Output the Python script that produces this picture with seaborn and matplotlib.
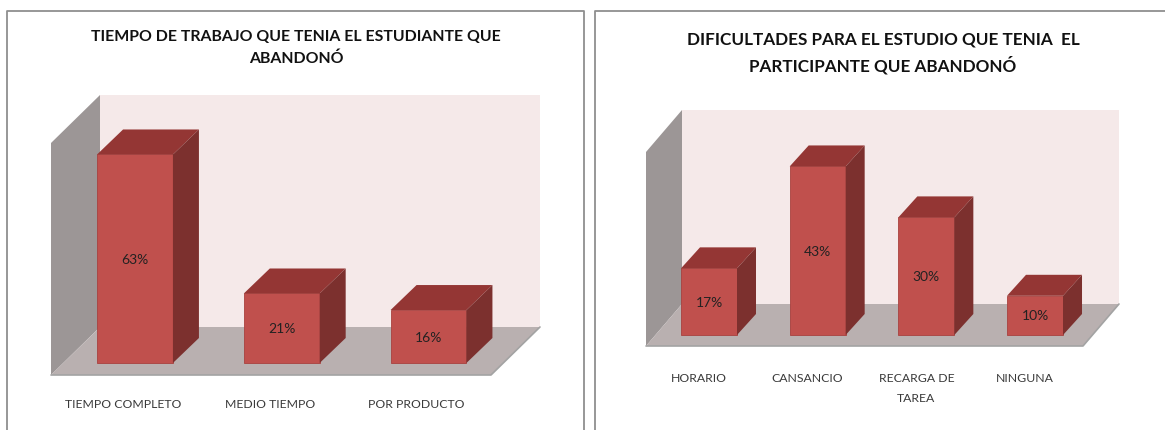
import pandas as pd
import matplotlib
matplotlib.use('Agg')
import matplotlib.pyplot as plt
from matplotlib.lines import Line2D
from matplotlib.patches import Polygon
from matplotlib.transforms import ScaledTranslation
import seaborn as sns

# datos del grafico izquierdo
trabajo_cat = ['TIEMPO COMPLETO', 'MEDIO TIEMPO', 'POR PRODUCTO']
trabajo_val = [63, 21, 16]
trabajo_titulo = 'TIEMPO DE TRABAJO QUE TENIA EL ESTUDIANTE QUE\nABANDONÓ'

# datos del grafico derecho
dificultad_cat = ['HORARIO', 'CANSANCIO', 'RECARGA DE\nTAREA', 'NINGUNA']
dificultad_val = [17, 43, 30, 10]
dificultad_titulo = 'DIFICULTADES PARA EL ESTUDIO QUE TENIA  EL\nPARTICIPANTE QUE ABANDONÓ'

ANCHO, ALTO = 1165, 431

sns.set_theme(style='white')
plt.rcParams['font.family'] = ['Lato', 'DejaVu Sans']

ROJO = '#c0504d'
TECHO = '#943634'
LADO = '#7c302e'
PARED = '#9c9696'
FONDO = '#f5e9e9'
PISO = '#b9b0b0'


def panel(fig, cat, val, titulo, x0, x1, y_piso, y_arriba, prof, centro0, paso, base, escala,
          prof_barra, corrido, pad, y_titulo, x_titulo, t_size, t_esp):
    # los ejes cubren el plano frontal de la caja, en pixeles de la imagen
    ax = fig.add_axes([x0 / ANCHO, 1 - y_piso / ALTO, (x1 - x0) / ANCHO, (y_piso - y_arriba) / ALTO])
    df = pd.DataFrame({'cat': cat, 'val': val})
    sns.barplot(data=df, x='cat', y='val', color=ROJO, saturation=1, width=56 / 108.67 if len(cat) == 4 else 76 / 147,
                edgecolor='#a8423f', linewidth=0.6, zorder=3, ax=ax)
    ax.set_xlim((x0 - centro0) / paso, (x1 - centro0) / paso)
    ax.set_ylim((base - y_piso) / escala, (base - y_arriba) / escala)
    ax.patch.set_visible(False)
    ax.set_xlabel('')
    ax.set_ylabel('')
    ax.set_yticks([])
    sns.despine(ax=ax, left=True, bottom=True)

    # paredes y piso en fraccion de los ejes
    dx, dy = prof[0] / (x1 - x0), prof[1] / (y_piso - y_arriba)
    caras = [
        ([(dx, dy), (1 + dx, dy), (1 + dx, 1 + dy), (dx, 1 + dy)], FONDO),
        ([(0, 0), (dx, dy), (dx, 1 + dy), (0, 1)], PARED),
        ([(0, 0), (1, 0), (1 + dx, dy), (dx, dy)], PISO),
    ]
    for pts, color in caras:
        ax.add_patch(Polygon(pts, closed=True, transform=ax.transAxes, facecolor=color,
                             edgecolor='none', clip_on=False, zorder=1))
    ax.plot([0, 1, 1 + dx], [0, 0, dy], transform=ax.transAxes, color='#a3a3a3', lw=1.2,
            clip_on=False, zorder=1.5)

    # caras de arriba y del costado de cada barra
    px = prof_barra[0] / paso
    py = prof_barra[1] / escala
    for b in ax.containers[0]:
        xa, xb, h = b.get_x(), b.get_x() + b.get_width(), b.get_height()
        ax.add_patch(Polygon([(xa, h), (xb, h), (xb + px, h + py), (xa + px, h + py)], closed=True,
                             facecolor=TECHO, edgecolor='none', clip_on=False, zorder=3))
        ax.add_patch(Polygon([(xb, 0), (xb + px, py), (xb + px, h + py), (xb, h)], closed=True,
                             facecolor=LADO, edgecolor='none', clip_on=False, zorder=3))
    ax.bar_label(ax.containers[0], labels=[str(v) + '%' for v in val], label_type='center',
                 fontsize=10, color='#222222')

    # etiquetas corridas a la izquierda de la barra
    ax.tick_params(axis='x', length=0, pad=pad, labelsize=8.8, labelcolor='#3a3a3a')
    corr = ScaledTranslation(-corrido / 100, 0, fig.dpi_scale_trans)
    for t in ax.get_xticklabels():
        t.set_transform(t.get_transform() + corr)
        t.set_linespacing(2.05)

    fig.text(x_titulo / ANCHO, 1 - y_titulo / ALTO, titulo, ha='center', va='center', fontsize=t_size,
             fontweight='bold', color='#111111', linespacing=t_esp)


fig = plt.figure(figsize=(ANCHO / 100, ALTO / 100), dpi=100, facecolor='white')

panel(fig, trabajo_cat, trabajo_val, trabajo_titulo, 51, 491, 376, 144, (49, 48), 135, 146.75, 364, 3.31,
      (26, 25), 12, 16.5, 48, 296, 11.4, 1.7)
panel(fig, dificultad_cat, dificultad_val, dificultad_titulo, 646, 1083, 347, 153, (36, 42), 709, 108.67, 336, 3.92,
      (19, 21), 10, 18.5, 53, 883, 12.3, 1.58)

# marcos de los dos paneles
for xs, ys in [((7, 7, 584, 584), (431, 12, 12, 431)), ((595, 595, 1165), (431, 12, 12))]:
    fig.add_artist(Line2D([x / ANCHO for x in xs], [1 - y / ALTO for y in ys], color='#8f8f8f', lw=1.3))

fig.savefig('out.png', dpi=100)
